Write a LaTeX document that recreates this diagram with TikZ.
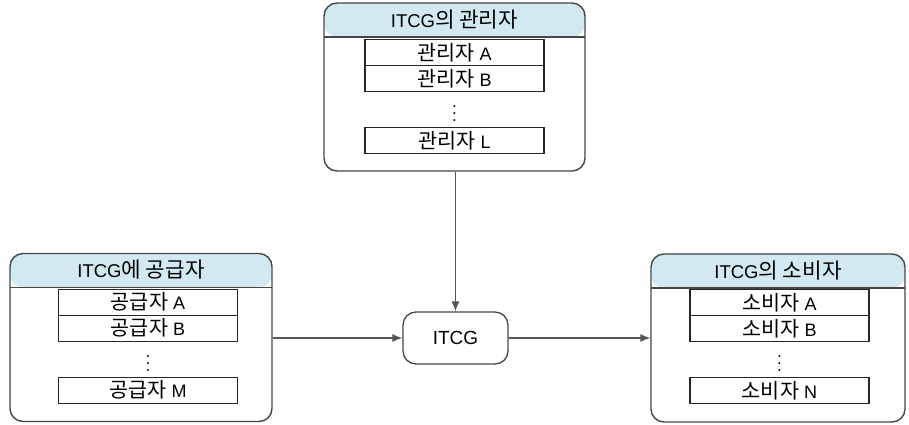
\documentclass[tikz,border=0pt]{standalone}
\usepackage{fontspec}
\setmainfont{Liberation Sans}
\newfontfamily\kr{Noto Sans CJK KR}[Scale=1.15]
\usetikzlibrary{positioning,arrows.meta,calc}
\definecolor{hdrblue}{RGB}{211,233,241}
\definecolor{boxline}{RGB}{70,70,70}
\definecolor{arrline}{RGB}{85,85,85}
\tikzset{
  group/.style={draw=boxline, line width=1.4pt, rounded corners=13pt,
    minimum width=#1, minimum height=168pt, inner sep=0pt,
    path picture={
      \fill[hdrblue] (path picture bounding box.north west) rectangle ([yshift=-34pt]path picture bounding box.north east);
      \draw[boxline, line width=1.2pt] ([yshift=-34pt]path picture bounding box.north west) -- ([yshift=-34pt]path picture bounding box.north east);}},
  hd/.style={minimum height=34pt, inner sep=0pt, font=\fontsize{18.5}{21}\selectfont},
  rowbox/.style={draw=black!85, line width=1.1pt, minimum width=179pt, minimum height=26pt,
    inner sep=0pt, outer sep=0pt, font=\fontsize{18}{21}\selectfont},
  dots/.style={inner sep=0pt, align=center, font=\fontsize{17}{7}\selectfont},
  core/.style={draw=boxline, line width=1.3pt, rounded corners=13pt, minimum width=105pt,
    minimum height=52pt, font=\fontsize{19}{22}\selectfont},
  flow/.style={draw=arrline, line width=1.1pt, -{Latex[length=10pt,width=8pt]}}
}
\begin{document}
\begin{tikzpicture}[x=1pt,y=-1pt]
\useasboundingbox (0,0) rectangle (909,424);
% groups
\node[group=261pt] (mgr) at (454.5,87) {};
\node[group=262pt] (sup) at (141,337.5) {};
\node[group=254pt] (con) at (778,338) {};
% headers
\node[hd, below=0pt of mgr.north] (mgrhd) {ITCG{\kr 의 관리자}};
\node[hd, below=0pt of sup.north] (suphd) {ITCG{\kr 에 공급자}};
\node[hd, below=0pt of con.north] (conhd) {ITCG{\kr 의 소비자}};
% managers
\node[rowbox, below=3pt of mgrhd] (mgra) {{\kr 관리자} A};
\node[rowbox, below=0pt of mgra] (mgrb) {{\kr 관리자} B};
\node[rowbox, below=36pt of mgrb] (mgrl) {{\kr 관리자} L};
\node[dots, yshift=-4pt] (mgrdots) at ($(mgrb.south)!0.5!(mgrl.north)$) {.\\.\\.};
% suppliers
\node[rowbox, below=2pt of suphd, xshift=7pt] (supa) {{\kr 공급자} A};
\node[rowbox, below=0pt of supa] (supb) {{\kr 공급자} B};
\node[rowbox, below=36pt of supb] (supm) {{\kr 공급자} M};
\node[dots, yshift=-4pt] (supdots) at ($(supb.south)!0.5!(supm.north)$) {.\\.\\.};
% consumers
\node[rowbox, below=2pt of conhd, xshift=1.5pt] (cona) {{\kr 소비자} A};
\node[rowbox, below=0pt of cona] (conb) {{\kr 소비자} B};
\node[rowbox, below=36pt of conb] (conn) {{\kr 소비자} N};
\node[dots, yshift=-4pt] (condots) at ($(conb.south)!0.5!(conn.north)$) {.\\.\\.};
% center
\node[core] (itcg) at (455.5,338) {ITCG};
\draw[flow] (mgr.south -| itcg.north) -- (itcg.north);
\draw[flow] (sup.east |- itcg.west) -- (itcg.west);
\draw[flow] (itcg.east) -- (itcg.east -| con.west);
\end{tikzpicture}
\end{document}
